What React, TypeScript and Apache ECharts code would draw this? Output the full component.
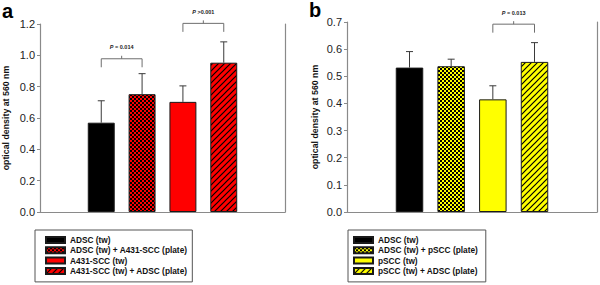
import React, { useEffect, useRef } from "react";
import * as echarts from "echarts";

const FONT = "'Liberation Sans', Arial, sans-serif";

// Panel a
const categoriesA = [
  "ADSC (tw)",
  "ADSC (tw) + A431-SCC (plate)",
  "A431-SCC (tw)",
  "A431-SCC (tw) + ADSC (plate)",
];
const valuesA = [0.57, 0.752, 0.703, 0.953];
const errorsA = [0.14, 0.131, 0.102, 0.133];
const bracketsA: [number, number, number, string][] = [
  [0, 1, 0.978, " = 0.014"],
  [2, 3, 1.204, " >0.001"],
];

// Panel b
const categoriesB = [
  "ADSC (tw)",
  "ADSC (tw) + pSCC (plate)",
  "pSCC (tw)",
  "pSCC (tw) + ADSC (plate)",
];
const valuesB = [0.532, 0.537, 0.415, 0.553];
const errorsB = [0.059, 0.026, 0.05, 0.071];
const bracketsB: [number, number, number, string][] = [[2, 3, 0.692, " = 0.013"]];

const yTicksA = { min: 0, max: 1.2, interval: 0.2 };
const yTicksB = { min: 0, max: 0.7, interval: 0.1 };

function makePattern(kind: "solid" | "check" | "hatch", base: string): any {
  if (kind === "solid") return base;
  const c = document.createElement("canvas");
  const ctx = c.getContext("2d")!;
  if (kind === "check") {
    c.width = 4;
    c.height = 4;
    ctx.fillStyle = base;
    ctx.fillRect(0, 0, 4, 4);
    ctx.fillStyle = "#000";
    ctx.fillRect(0, 0, 2, 2);
    ctx.fillRect(2, 2, 2, 2);
  } else {
    const s = 6;
    c.width = s;
    c.height = s;
    ctx.fillStyle = base;
    ctx.fillRect(0, 0, s, s);
    ctx.strokeStyle = "#000";
    ctx.lineWidth = 1.2;
    ctx.beginPath();
    ctx.moveTo(-1, s + 1);
    ctx.lineTo(s + 1, -1);
    ctx.moveTo(-1, 1);
    ctx.lineTo(1, -1);
    ctx.moveTo(s - 1, s + 1);
    ctx.lineTo(s + 1, s - 1);
    ctx.stroke();
  }
  return {
    image: c.toDataURL(),
    repeat: "repeat",
    imageWidth: c.width,
    imageHeight: c.height,
  };
}

const kinds: ("solid" | "check" | "hatch")[] = ["solid", "check", "solid", "hatch"];

function buildPanel(
  idx: number,
  cats: string[],
  vals: number[],
  errs: number[],
  brackets: [number, number, number, string][],
  baseColors: string[]
) {
  const series: any[] = [];
  cats.forEach((name, i) => {
    const data: any[] = ["-", "-", "-", "-", "-", "-"];
    data[i + 1] = vals[i];
    series.push({
      type: "bar",
      name,
      xAxisIndex: idx,
      yAxisIndex: idx * 2,
      stack: "s" + idx,
      barWidth: "66%",
      data,
      itemStyle: {
        color: makePattern(kinds[i], baseColors[i]),
        borderColor: "#1a1a1a",
        borderWidth: 1,
      },
      z: 2,
    });
  });
  series.push({
    type: "custom",
    xAxisIndex: idx,
    yAxisIndex: idx * 2,
    z: 3,
    clip: false,
    data: vals.map((v, i) => [i + 1, v, v + errs[i]]),
    renderItem: (_p: any, api: any) => {
      const x = api.value(0);
      const p0 = api.coord([x, api.value(1)]);
      const p1 = api.coord([x, api.value(2)]);
      const st = { stroke: "#3a3a3a", lineWidth: 1 };
      return {
        type: "group",
        children: [
          { type: "line", shape: { x1: p0[0], y1: p0[1], x2: p1[0], y2: p1[1] }, style: st },
          { type: "line", shape: { x1: p1[0] - 3.5, y1: p1[1], x2: p1[0] + 3.5, y2: p1[1] }, style: st },
        ],
      };
    },
  });
  series.push({
    type: "custom",
    xAxisIndex: idx,
    yAxisIndex: idx * 2,
    z: 3,
    clip: false,
    data: brackets.map((b) => [b[0] + 1, b[1] + 1, b[2]]),
    renderItem: (p: any, api: any) => {
      const a = api.coord([api.value(0), api.value(2)]);
      const b = api.coord([api.value(1), api.value(2)]);
      const mid = (a[0] + b[0]) / 2;
      const y = a[1];
      const st = { stroke: "#6e6e6e", lineWidth: 1, fill: "none" };
      return {
        type: "group",
        children: [
          {
            type: "polyline",
            shape: { points: [[a[0], y + 8.5], [a[0], y], [b[0], y], [b[0], y + 8.5]] },
            style: st,
          },
          { type: "line", shape: { x1: mid, y1: y, x2: mid, y2: y - 3 }, style: st },
          {
            type: "text",
            x: mid,
            y: y - 11.5,
            style: {
              text: "{i|P}{n|" + brackets[p.dataIndex][3] + "}",
              align: "center",
              verticalAlign: "middle",
              rich: {
                i: { fontStyle: "italic", fontWeight: "bold", fontSize: 5.5, fontFamily: FONT, fill: "#222" },
                n: { fontWeight: "bold", fontSize: 5.5, fontFamily: FONT, fill: "#222" },
              },
            },
          },
        ],
      };
    },
  });
  return series;
}

export default function App() {
  const ref = useRef<HTMLDivElement>(null);
  useEffect(() => {
    const chart = echarts.init(ref.current!, undefined, { renderer: "svg" });
    const axisGrey = "#8a8a8a";
    const xAxisBase = (gi: number, cats: string[]) => ({
      type: "category",
      gridIndex: gi,
      data: [" ", ...cats, "  "],
      axisLine: { show: true, lineStyle: { color: axisGrey, width: 1.2 } },
      axisTick: { show: false },
      axisLabel: { show: false },
      splitLine: { show: false },
    });
    const yAxisBase = (gi: number, t: { min: number; max: number; interval: number }, gap: number) => ({
      type: "value",
      gridIndex: gi,
      min: t.min,
      max: t.max,
      interval: t.interval,
      name: "optical density at 560 nm",
      nameLocation: "middle",
      nameGap: gap,
      nameTextStyle: { fontFamily: FONT, fontWeight: "bold", fontSize: 8.8, color: "#111" },
      axisLine: { show: true, lineStyle: { color: axisGrey, width: 1.2 } },
      axisTick: { show: true, inside: false, length: 3, lineStyle: { color: axisGrey } },
      axisLabel: {
        margin: 5,
        fontFamily: FONT,
        fontSize: 11,
        color: "#222",
        formatter: (v: number) => v.toFixed(1),
      },
      splitLine: { show: false },
    });
    const rightAxis = (gi: number) => ({
      type: "value",
      gridIndex: gi,
      position: "right",
      min: 0,
      max: 1,
      axisLine: { show: true, onZero: false, lineStyle: { color: axisGrey, width: 1.2 } },
      axisTick: { show: false },
      axisLabel: { show: false },
      splitLine: { show: false },
    });
    const legendBase = (left: number, padLeft: number, padRight: number, cats: string[]) => ({
      orient: "vertical",
      left,
      top: 230,
      data: cats,
      icon: "rect",
      itemWidth: 19,
      itemHeight: 6,
      itemGap: 0.3,
      padding: [5, padRight, 6, padLeft],
      borderColor: "#555",
      borderWidth: 1,
      selectedMode: false,
      textStyle: { fontFamily: FONT, fontWeight: "bold", fontSize: 8.3, color: "#111", lineHeight: 10 },
    });
    chart.setOption({
      animation: false,
      backgroundColor: "#fff",
      grid: [
        { left: 40, top: 24, width: 245, height: 188 },
        { left: 347, top: 22, width: 250, height: 190 },
      ],
      xAxis: [xAxisBase(0, categoriesA), xAxisBase(1, categoriesB)],
      yAxis: [yAxisBase(0, yTicksA, 30), rightAxis(0), yAxisBase(1, yTicksB, 28), rightAxis(1)],
      legend: [legendBase(35, 10, 5, categoriesA), legendBase(348, 5, 8, categoriesB)],
      graphic: [
        {
          type: "text",
          left: 2,
          top: 1,
          style: { text: "a", fontFamily: FONT, fontWeight: "bold", fontSize: 20, fill: "#000" },
        },
        {
          type: "text",
          left: 309,
          top: 0,
          style: { text: "b", fontFamily: FONT, fontWeight: "bold", fontSize: 20, fill: "#000" },
        },
      ],
      series: [
        ...buildPanel(0, categoriesA, valuesA, errorsA, bracketsA, ["#000000", "#ff0000", "#ff0000", "#ff0000"]),
        ...buildPanel(1, categoriesB, valuesB, errorsB, bracketsB, ["#000000", "#ffff00", "#ffff00", "#ffff00"]),
      ],
    });
    return () => chart.dispose();
  }, []);
  return (
    <div
      ref={ref}
      style={{ position: "absolute", left: 0, top: 0, width: 600, height: 285 }}
    />
  );
}
